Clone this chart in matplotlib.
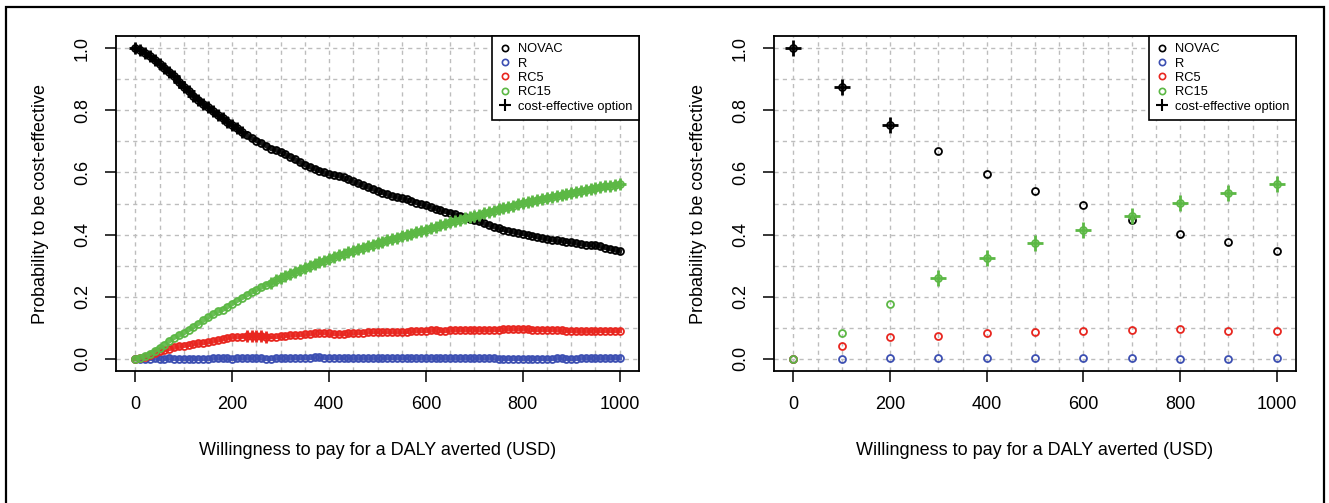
import numpy as np
import matplotlib
matplotlib.use("Agg")
import matplotlib.pyplot as plt
from matplotlib.lines import Line2D
from matplotlib.patches import Rectangle

plt.rcParams['font.family'] = ['Liberation Sans', 'DejaVu Sans']

# ---- data: left panel, WTP every 10 USD ----
wtp_fine = np.arange(0, 1001, 10)

novac_fine = [1.000, 0.995, 0.985, 0.975, 0.962, 0.950, 0.937, 0.925, 0.910, 0.893,
              0.876, 0.862, 0.848, 0.835, 0.822, 0.810, 0.797, 0.785, 0.775, 0.763,
              0.753, 0.742, 0.730, 0.720, 0.711, 0.703, 0.695, 0.686, 0.677, 0.672,
              0.667, 0.658, 0.650, 0.642, 0.633, 0.625, 0.618, 0.612, 0.606, 0.600,
              0.595, 0.592, 0.589, 0.584, 0.578, 0.571, 0.565, 0.559, 0.553, 0.547,
              0.541, 0.535, 0.530, 0.524, 0.520, 0.517, 0.513, 0.508, 0.503, 0.498,
              0.494, 0.488, 0.483, 0.478, 0.474, 0.470, 0.465, 0.460, 0.455, 0.451,
              0.447, 0.442, 0.436, 0.431, 0.425, 0.420, 0.416, 0.412, 0.408, 0.405,
              0.403, 0.400, 0.396, 0.392, 0.388, 0.385, 0.383, 0.381, 0.379, 0.377,
              0.375, 0.372, 0.369, 0.367, 0.366, 0.365, 0.362, 0.358, 0.354, 0.350,
              0.346]

r_fine = [0.000, 0.000, 0.000, 0.000, 0.001, 0.000, 0.000, 0.001, 0.000, 0.000,
          0.000, 0.000, 0.000, 0.000, 0.000, 0.000, 0.001, 0.001, 0.001, 0.001,
          0.000, 0.001, 0.001, 0.001, 0.001, 0.001, 0.001, 0.000, 0.000, 0.001,
          0.001, 0.001, 0.001, 0.002, 0.002, 0.003, 0.003, 0.004, 0.004, 0.003,
          0.003, 0.003, 0.002, 0.002, 0.001, 0.001, 0.001, 0.001, 0.001, 0.001,
          0.001, 0.001, 0.002, 0.002, 0.002, 0.002, 0.002, 0.002, 0.001, 0.001,
          0.001, 0.001, 0.001, 0.001, 0.001, 0.001, 0.001, 0.001, 0.001, 0.001,
          0.001, 0.001, 0.001, 0.001, 0.001, 0.000, 0.000, 0.000, 0.000, 0.000,
          0.000, 0.000, 0.000, 0.000, 0.000, 0.000, 0.000, 0.001, 0.001, 0.000,
          0.000, 0.000, 0.001, 0.001, 0.001, 0.001, 0.001, 0.001, 0.001, 0.002,
          0.002]

rc5_fine = [0.000, 0.002, 0.006, 0.012, 0.018, 0.024, 0.028, 0.032, 0.036, 0.039,
            0.042, 0.045, 0.047, 0.049, 0.051, 0.054, 0.056, 0.059, 0.063, 0.066,
            0.069, 0.070, 0.071, 0.073, 0.074, 0.074, 0.073, 0.071, 0.070, 0.071,
            0.072, 0.074, 0.075, 0.076, 0.077, 0.078, 0.079, 0.081, 0.083, 0.083,
            0.081, 0.080, 0.079, 0.080, 0.081, 0.082, 0.083, 0.084, 0.085, 0.086,
            0.087, 0.087, 0.086, 0.086, 0.085, 0.086, 0.087, 0.088, 0.089, 0.090,
            0.090, 0.091, 0.091, 0.090, 0.090, 0.091, 0.092, 0.092, 0.092, 0.092,
            0.092, 0.092, 0.092, 0.092, 0.093, 0.093, 0.094, 0.095, 0.095, 0.095,
            0.095, 0.094, 0.093, 0.093, 0.093, 0.093, 0.093, 0.092, 0.091, 0.090,
            0.090, 0.089, 0.088, 0.088, 0.089, 0.089, 0.090, 0.090, 0.090, 0.090,
            0.090]

rc15_fine = [0.000, 0.003, 0.008, 0.015, 0.025, 0.035, 0.045, 0.057, 0.068, 0.075,
             0.083, 0.093, 0.103, 0.113, 0.123, 0.133, 0.143, 0.152, 0.158, 0.167,
             0.177, 0.187, 0.196, 0.205, 0.214, 0.222, 0.230, 0.237, 0.245, 0.252,
             0.259, 0.266, 0.273, 0.280, 0.287, 0.293, 0.299, 0.305, 0.310, 0.316,
             0.322, 0.328, 0.333, 0.338, 0.343, 0.348, 0.353, 0.358, 0.363, 0.367,
             0.372, 0.376, 0.381, 0.386, 0.390, 0.395, 0.399, 0.403, 0.407, 0.411,
             0.415, 0.420, 0.425, 0.430, 0.435, 0.440, 0.444, 0.448, 0.452, 0.456,
             0.460, 0.464, 0.468, 0.473, 0.477, 0.481, 0.485, 0.489, 0.493, 0.498,
             0.502, 0.505, 0.508, 0.512, 0.515, 0.519, 0.522, 0.525, 0.528, 0.532,
             0.535, 0.538, 0.541, 0.544, 0.547, 0.550, 0.552, 0.555, 0.558, 0.560,
             0.563]

# cost-effective option by WTP range (start, end inclusive)
opt_fine_segments = [(0, 220, "NOVAC"), (230, 270, "RC5"), (280, 1000, "RC15")]

# ---- data: right panel, WTP every 100 USD ----
wtp_coarse = [0, 100, 200, 300, 400, 500, 600, 700, 800, 900, 1000]
novac_coarse = [1.000, 0.876, 0.754, 0.668, 0.596, 0.541, 0.494, 0.446, 0.403, 0.375, 0.346]
r_coarse = [0.000, 0.000, 0.001, 0.001, 0.003, 0.001, 0.001, 0.001, 0.000, 0.000, 0.002]
rc5_coarse = [0.000, 0.042, 0.069, 0.072, 0.081, 0.086, 0.089, 0.092, 0.095, 0.089, 0.089]
rc15_coarse = [0.000, 0.083, 0.177, 0.259, 0.323, 0.372, 0.415, 0.461, 0.502, 0.535, 0.563]
opt_coarse = ["NOVAC", "NOVAC", "NOVAC", "RC15", "RC15", "RC15", "RC15",
              "RC15", "RC15", "RC15", "RC15"]

names = ["NOVAC", "R", "RC5", "RC15"]
colors = {"NOVAC": "black", "R": "#3c4fb2", "RC5": "#e8261f", "RC15": "#5cb845"}


def draw_panel(ax, x, series, optimal, band=False):
    x = np.asarray(x)
    for nm in names:
        y = np.asarray(series[nm])
        if band:
            ax.plot(x, y, color=colors[nm], lw=3.6, zorder=3, alpha=0.9)
        ax.plot(x, y, ls='none', marker='o', ms=5.0, mfc='none', mew=1.3,
                color=colors[nm], zorder=3)
    for nm in names:
        y = np.asarray(series[nm])
        mask = np.array([o == nm for o in optimal])
        if mask.any():
            ax.plot(x[mask], y[mask], ls='none', marker='+',
                    ms=9 if band else 11, mew=2.0,
                    color=colors[nm], zorder=4)

    ax.set_xlim(-40, 1040)
    ax.set_ylim(-0.04, 1.04)
    ax.set_xticks([0, 200, 400, 600, 800, 1000])
    ax.set_yticks([0.0, 0.2, 0.4, 0.6, 0.8, 1.0])
    ax.set_yticklabels(["0.0", "0.2", "0.4", "0.6", "0.8", "1.0"],
                       rotation=90, va='center')
    for v in np.arange(0, 1001, 50):
        ax.axvline(v, color='#bdbdbd', lw=1.0, ls=(0, (3, 3)), zorder=1)
    for v in np.arange(0, 1.01, 0.1):
        ax.axhline(v, color='#bdbdbd', lw=1.0, ls=(0, (3, 3)), zorder=1)
    ax.tick_params(direction='out', length=8, width=1.1, labelsize=13, pad=10)
    for s in ax.spines.values():
        s.set_linewidth(1.3)
    ax.set_xlabel("Willingness to pay for a DALY averted (USD)", fontsize=13,
                  labelpad=21)
    ax.set_ylabel("Probability to be cost-effective", fontsize=13, labelpad=18)

    handles = [Line2D([], [], ls='none', marker='o', ms=4.5, mfc='none',
                      mew=1.2, color=colors[nm]) for nm in names]
    handles.append(Line2D([], [], ls='none', marker='+', ms=8, mew=1.5,
                          color='black'))
    leg = ax.legend(handles, names + ["cost-effective option"], loc='upper right',
                    fontsize=9.3, frameon=True, fancybox=False, framealpha=1,
                    edgecolor='black', borderaxespad=0, handlelength=0.8,
                    handletextpad=0.6, labelspacing=0.18, borderpad=0.55)
    leg.get_frame().set_linewidth(1.2)
    leg.set_zorder(5)


fig = plt.figure(figsize=(13.29, 5.03), dpi=100)
ax1 = fig.add_axes([116 / 1329, (503 - 371) / 503, 523 / 1329, 335 / 503])
ax2 = fig.add_axes([774 / 1329, (503 - 371) / 503, 522 / 1329, 335 / 503])

opt_fine = []
for w in wtp_fine:
    for a, b, nm in opt_fine_segments:
        if a <= w <= b:
            opt_fine.append(nm)

draw_panel(ax1, wtp_fine, {"NOVAC": novac_fine, "R": r_fine, "RC5": rc5_fine,
                           "RC15": rc15_fine}, opt_fine, band=True)
draw_panel(ax2, wtp_coarse, {"NOVAC": novac_coarse, "R": r_coarse,
                             "RC5": rc5_coarse, "RC15": rc15_coarse}, opt_coarse)

# outer frame around the figure
fig.add_artist(Rectangle((6 / 1329, -0.2), 1318 / 1329, 1.2 - 7 / 503,
                         transform=fig.transFigure, fill=False, lw=1.6,
                         edgecolor='black'))

fig.savefig("out.png", dpi=100)
